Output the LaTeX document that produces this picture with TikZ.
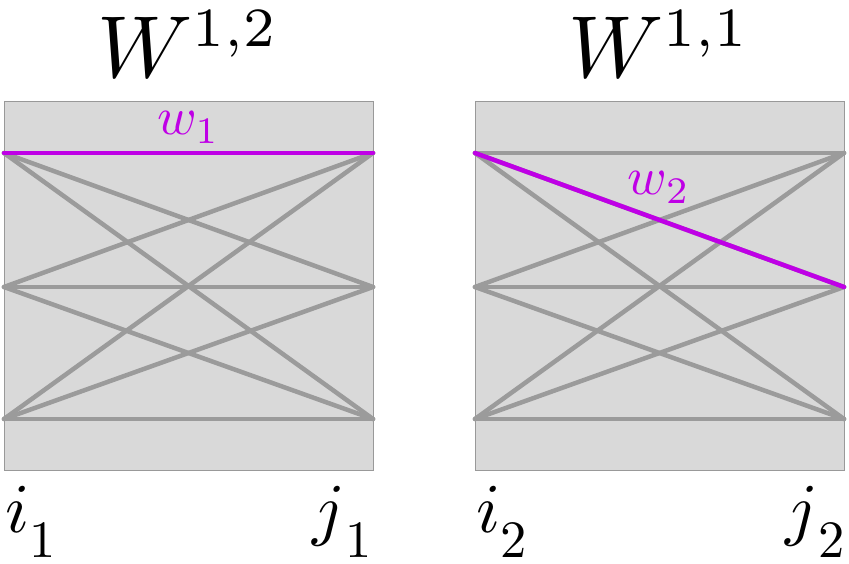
\documentclass[tikz,border=0pt]{standalone}
\usepackage{graphicx}
\definecolor{boxfill}{RGB}{217,217,217}
\definecolor{boxline}{RGB}{153,153,153}
\definecolor{edgegray}{RGB}{155,155,155}
\definecolor{hilite}{RGB}{191,0,230}
\tikzset{
  matbox/.style={fill=boxfill,draw=boxline,line width=1.2pt},
  edge/.style={draw=edgegray,line width=4.5pt,line cap=round},
  hiedge/.style={draw=hilite,line width=4.5pt,line cap=round},
  bigtitle/.style={scale=8.8,inner sep=0pt,anchor=base},
  idxlabel/.style={scale=7,inner sep=0pt},
  wlabel/.style={scale=5.35,inner sep=0pt,anchor=base,text=hilite},
}
\newcommand{\supsc}[1]{\scalebox{0.9}{$\scriptstyle #1$}}
\newcommand{\idx}[2]{$#1$\raisebox{-3.6pt}{\scalebox{0.75}{$#2$}}}
\begin{document}
\begin{tikzpicture}[x=1pt,y=-1pt]
\useasboundingbox (0,0) rectangle (849,564);
% boxes
\node[matbox,minimum width=369pt,minimum height=369pt,inner sep=0pt,anchor=north west] (boxA) at (4,101) {};
\node[matbox,minimum width=369pt,minimum height=369pt,inner sep=0pt,anchor=north west] (boxB) at (475,101) {};
% endpoints, box A
\coordinate (a1) at (4,153); \coordinate (a2) at (4,287); \coordinate (a3) at (4,419);
\coordinate (b1) at (373,153); \coordinate (b2) at (373,287); \coordinate (b3) at (373,419);
% endpoints, box B
\coordinate (c1) at (475,153); \coordinate (c2) at (475,287); \coordinate (c3) at (475,419);
\coordinate (d1) at (844,153); \coordinate (d2) at (844,287); \coordinate (d3) at (844,419);
% edges A
\foreach \i in {1,2,3}{\foreach \j in {1,2,3}{\draw[edge] (a\i) -- (b\j);}}
\draw[hiedge] (a1) -- (b1);
% edges B
\foreach \i in {1,2,3}{\foreach \j in {1,2,3}{\draw[edge] (c\i) -- (d\j);}}
\draw[hiedge] (c1) -- (d2);
% titles
\node[bigtitle] (tA) at (188.5,78) {$W^{\supsc{1,2}}$};
\node[bigtitle] (tB) at (659.5,78) {$W^{\supsc{1,1}}$};
% weight labels
\node[wlabel] (w1) at (188.5,135) {$w_1$};
\node[wlabel] (w2) at (659,195) {$w_2$};
% index labels
\node[idxlabel,anchor=base west] (i1) at (4,532) {\idx{i}{1}};
\node[idxlabel,anchor=base east] (j1) at (373,532) {\idx{j}{1}};
\node[idxlabel,anchor=base west] (i2) at (475,532) {\idx{i}{2}};
\node[idxlabel,anchor=base east] (j2) at (846,532) {\idx{j}{2}};
\end{tikzpicture}
\end{document}
